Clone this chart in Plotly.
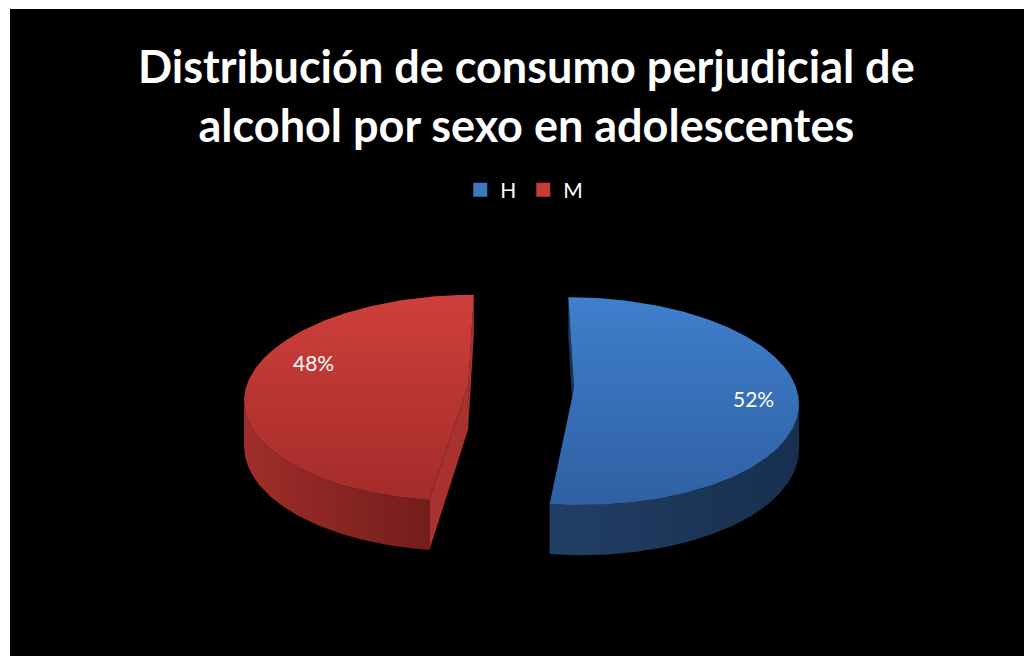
import numpy as np
import plotly.graph_objects as go

# ---- data ----
categories = ["H", "M"]
values = [52, 48]
title_lines = ["Distribución de consumo perjudicial de", "alcohol por sexo en adolescentes"]

# ---- style / layout constants ----
top_colors = [("#3f7fcc", "#2f60a3"), ("#cf3f3b", "#a42c2a")]
wall_colors = [("#213f66", "#182f4e"), ("#a02e2b", "#731d1b")]
radial_colors = ["#1d3656", "#a9312e"]
legend_colors = ["#3b77c2", "#c83c38"]

W, H = 1024, 656
X0, Y0 = 521, 387          # screen centre of pie
A, B = 222, 102            # screen semi axes
K = 0.121                  # perspective factor
DEPTH = 44                 # thickness in px
EXPLODE = 0.239            # explode distance (radius units)
START = 90.0
CAM = np.array([0.0, -1.0 / K])
label_geom = [(0.80, -3.4), (0.76, -14.4)]  # (radius, angle offset from bisector)


def proj(x, y, z=0.0):
    s = 1.0 / (1.0 + K * y)
    return X0 + x * A * s, Y0 - y * B * s + z * s


total = sum(values)
walls, tops, ann = [], [], []
start = START
for i, (cat, v) in enumerate(zip(categories, values)):
    sweep = 360.0 * v / total
    t1, t2 = start, start - sweep
    bis = np.radians(start - sweep / 2)
    cx, cy = EXPLODE * np.cos(bis), EXPLODE * np.sin(bis)
    th = np.radians(np.linspace(t1, t2, 200))
    px, py = cx + np.cos(th), cy + np.sin(th)

    # top face
    tx, ty = proj(np.r_[cx, px, cx], np.r_[cy, py, cy])
    tops.append(go.Scatter(
        x=tx, y=ty, mode="lines", fill="toself", line=dict(width=0),
        fillcolor=top_colors[i][0],
        fillgradient=dict(type="vertical", start=float(ty.min()), stop=float(ty.max()),
                          colorscale=[[0, top_colors[i][0]], [1, top_colors[i][1]]]),
        hoverinfo="skip", showlegend=False))

    # curved wall (visible portion)
    vis = np.cos(th) * (CAM[0] - px) + np.sin(th) * (CAM[1] - py) > 0
    if vis.any():
        wx, wy = px[vis], py[vis]
        ax_, ay_ = proj(wx, wy)
        bx_, by_ = proj(wx, wy, DEPTH)
        X = np.r_[ax_, bx_[::-1], ax_[0]]
        Y = np.r_[ay_, by_[::-1], ay_[0]]
        walls.append((-float(np.mean(wy)), go.Scatter(
            x=X, y=Y, mode="lines", fill="toself", line=dict(width=0),
            fillcolor=wall_colors[i][0],
            fillgradient=dict(type="horizontal", start=float(X.min()), stop=float(X.max()),
                              colorscale=[[0, wall_colors[i][0]], [1, wall_colors[i][1]]]),
            hoverinfo="skip", showlegend=False)))

    # radial faces
    for ang, nang in ((t1, t1 + 90), (t2, t2 - 90)):
        a, n = np.radians(ang), np.radians(nang)
        nvec = np.array([np.cos(n), np.sin(n)])
        if nvec @ (CAM - np.array([cx, cy])) > 1e-6:
            ex, ey = cx + np.cos(a), cy + np.sin(a)
            p1 = proj(cx, cy); p2 = proj(ex, ey)
            p3 = proj(ex, ey, DEPTH); p4 = proj(cx, cy, DEPTH)
            walls.append((-(cy + ey) / 2, go.Scatter(
                x=[p1[0], p2[0], p3[0], p4[0], p1[0]],
                y=[p1[1], p2[1], p3[1], p4[1], p1[1]],
                mode="lines", fill="toself", line=dict(width=0),
                fillcolor=radial_colors[i], hoverinfo="skip", showlegend=False)))

    # label
    r, off = label_geom[i]
    la = bis + np.radians(off)
    lx, ly = proj(cx + r * np.cos(la), cy + r * np.sin(la))
    ann.append(dict(x=lx, y=ly, xref="x", yref="y", text=f"{round(100 * v / total)}%",
                    showarrow=False, font=dict(family="Lato", size=21, color="white")))
    start = t2

fig = go.Figure()
for _, tr in sorted(walls, key=lambda t: t[0]):
    fig.add_trace(tr)
for tr in tops:
    fig.add_trace(tr)
for i, cat in enumerate(categories):
    fig.add_trace(go.Scatter(x=[None], y=[None], mode="markers", name=cat,
                             marker=dict(symbol="square", size=14, color=legend_colors[i])))

fig.update_layout(
    width=W, height=H, margin=dict(l=0, r=0, t=0, b=0),
    paper_bgcolor="black", plot_bgcolor="black",
    xaxis=dict(range=[0, W], visible=False, fixedrange=True),
    yaxis=dict(range=[H, 0], visible=False, fixedrange=True),
    title=dict(text="<br>".join(title_lines), x=0.514, xanchor="center",
               y=1 - 83 / H, yanchor="middle",
               font=dict(family="Lato", size=45, color="white", weight="bold")),
    legend=dict(orientation="h", x=0.511, xanchor="center", y=1 - 190 / H, yanchor="middle",
                font=dict(family="Lato", size=21, color="white"), bgcolor="rgba(0,0,0,0)",
                itemclick=False, itemwidth=30, entrywidth=18, entrywidthmode="pixels"),
    annotations=ann,
    shapes=[dict(type="rect", x0=0, x1=10, y0=0, y1=H, xref="x", yref="y",
                 fillcolor="white", line=dict(width=0)),
            dict(type="rect", x0=0, x1=W, y0=0, y1=9, xref="x", yref="y",
                 fillcolor="white", line=dict(width=0))],
)
fig.write_html("out.html")
